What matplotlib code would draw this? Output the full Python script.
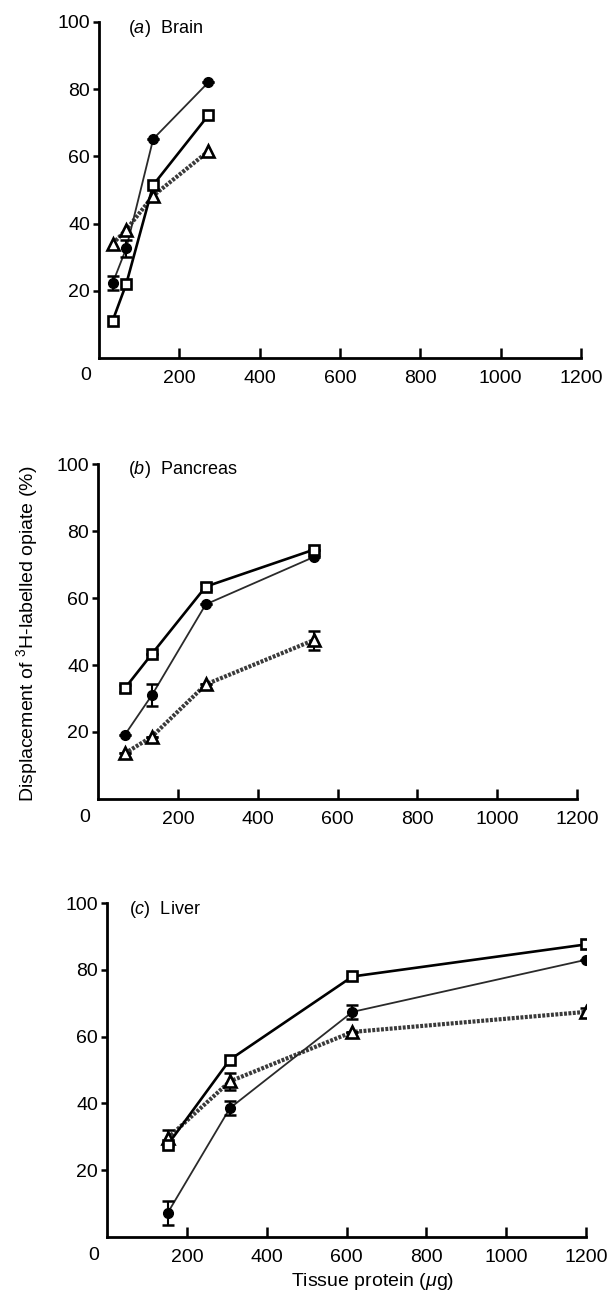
import numpy as np
import matplotlib
matplotlib.use("Agg")
import matplotlib.pyplot as plt

plt.rcParams['font.family'] = ['Liberation Sans', 'DejaVu Sans']
plt.rcParams['mathtext.fontset'] = 'custom'
plt.rcParams['mathtext.rm'] = 'Liberation Sans'
plt.rcParams['mathtext.it'] = 'Liberation Sans:italic'

# ---------- data ----------
# (a) brain
a_x = [34, 68, 135, 272]
a_sq = [11.1, 22.1, 51.5, 72.2]
a_ci = [22.3, 32.7, 65.2, 82.0]
a_ci_err = [2.0, 2.5, 0.0, 0.0]
a_tr = [34.0, 38.2, 48.3, 61.5]

# (b) pancreas
b_x = [67, 135, 270, 540]
b_sq = [33.0, 43.3, 63.4, 74.4]
b_sq_err = [1.0, 0.0, 1.0, 0.0]
b_ci = [19.1, 31.0, 58.1, 72.2]
b_ci_err = [0.0, 3.2, 0.0, 0.0]
b_tr = [13.6, 18.6, 34.2, 47.4]
b_tr_err = [0.0, 0.0, 0.0, 2.8]

# (c) liver
c_x = [152, 308, 615, 1200]
c_sq = [27.6, 53.1, 78.0, 87.6]
c_ci = [7.2, 38.6, 67.4, 83.0]
c_ci_err = [3.7, 2.2, 2.0, 0.0]
c_tr = [29.6, 46.6, 61.4, 67.4]
c_tr_err = [2.5, 2.5, 0.0, 1.2]

xticks = [200, 400, 600, 800, 1000, 1200]
yticks = [20, 40, 60, 80, 100]

panels = [
    ("($\\it{a}$)  Brain", a_x, a_sq, None, a_ci, a_ci_err, a_tr, None,
     [99, 358, 581, 22], (0.06, 0.982)),
    ("($\\it{b}$)  Pancreas", b_x, b_sq, b_sq_err, b_ci, b_ci_err, b_tr, b_tr_err,
     [98, 799, 577, 464], (0.063, 0.985)),
    ("($\\it{c}$)  Liver", c_x, c_sq, None, c_ci, c_ci_err, c_tr, c_tr_err,
     [107, 1237, 586, 903], (0.046, 0.982)),
]

W, H = 608, 1295
fig = plt.figure(figsize=(W / 100, H / 100), dpi=100)

for label, x, sq, sq_err, ci, ci_err, tr, tr_err, box, lpos in panels:
    l, b, r, t = box
    ax = fig.add_axes([l / W, 1 - b / H, (r - l) / W, (b - t) / H])

    # triangles: thick dotted grey line
    ax.plot(x, tr, color="#3a3a3a", lw=3.0, ls=(0, (0.7, 0.35)), zorder=2)
    # circles: thin line
    ax.plot(x, ci, color="#2a2a2a", lw=1.3, zorder=2)
    # squares: solid
    ax.plot(x, sq, color="black", lw=1.9, zorder=2)

    if tr_err is not None:
        ax.errorbar(x, tr, yerr=tr_err, fmt="none", ecolor="black",
                    elinewidth=1.5, capsize=4, capthick=1.8, zorder=3)
    if ci_err is not None:
        ax.errorbar(x, ci, yerr=ci_err, fmt="none", ecolor="black",
                    elinewidth=1.5, capsize=4, capthick=1.8, zorder=3)
    if sq_err is not None:
        ax.errorbar(x, sq, yerr=sq_err, fmt="none", ecolor="black",
                    elinewidth=1.5, capsize=4, capthick=1.8, zorder=3)

    ax.plot(x, tr, ls="none", marker="^", ms=9, mfc="white", mec="black",
            mew=1.9, zorder=4)
    ax.plot(x, ci, ls="none", marker="o", ms=7, mfc="black", mec="black",
            zorder=5)
    ax.plot(x, sq, ls="none", marker="s", ms=6.5, mfc="white", mec="black",
            mew=1.9, zorder=5)

    ax.set_xlim(0, 1200)
    ax.set_ylim(0, 100)
    ax.spines["top"].set_visible(False)
    ax.spines["right"].set_visible(False)
    for s in ("left", "bottom"):
        ax.spines[s].set_linewidth(2.0)
    ax.set_xticks(xticks)
    ax.set_yticks(yticks)
    ax.tick_params(axis="x", direction="in", length=7, width=1.8, pad=9,
                   labelsize=14)
    ax.tick_params(axis="y", direction="out", length=4.5, width=1.8, pad=2,
                   labelsize=14)
    ax.annotate("0", xy=(0, 0), xytext=(-13, -18), textcoords="offset pixels",
                ha="center", va="center", fontsize=14, annotation_clip=False)
    ax.text(lpos[0], lpos[1], label, transform=ax.transAxes, ha="left",
            va="center", fontsize=13)

fig.text(27 / W, 1 - 634 / H, "Displacement of $^{3}$H-labelled opiate (%)",
         rotation=90, ha="center", va="center", fontsize=14)
fig.text(373 / W, 1 - 1282 / H, "Tissue protein ($\\mu$g)", ha="center",
         va="center", fontsize=14)

fig.savefig("out.png", dpi=100, facecolor="white")
